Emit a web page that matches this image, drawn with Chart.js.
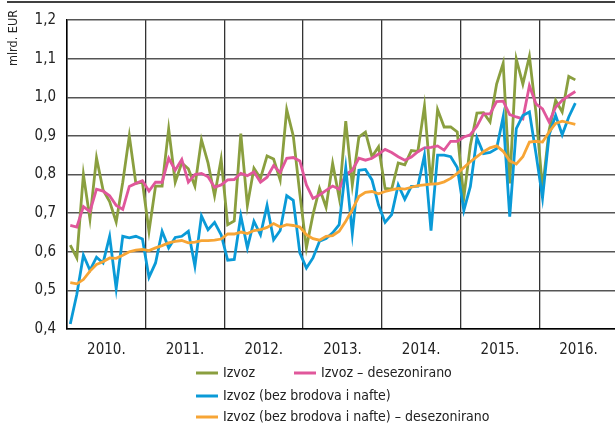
<!DOCTYPE html>
<html>
<head>
<meta charset="utf-8">
<script src="https://cdn.jsdelivr.net/npm/chart.js@4"></script>
<style>
  html, body { margin: 0; padding: 0; background: #fff; }
  #wrap { width: 615px; height: 425px; }
</style>
</head>
<body>
<div id="wrap"><canvas id="izvozChart" width="615" height="425"></canvas></div>
<script>
// x axis: one label per year, monthly points Jan 2010 - Jun 2016
const yearLabels = ['2010.', '2011.', '2012.', '2013.', '2014.', '2015.', '2016.'];

const izvoz = [
  0.617, 0.584, 0.800, 0.685, 0.843, 0.760, 0.730, 0.677, 0.780, 0.900, 0.777, 0.780,
  0.653, 0.770, 0.770, 0.918, 0.780, 0.830, 0.815, 0.770, 0.890, 0.830, 0.745, 0.840,
  0.670, 0.680, 0.906, 0.720, 0.816, 0.790, 0.848, 0.840, 0.786, 0.968, 0.900, 0.750,
  0.610, 0.696, 0.764, 0.715, 0.829, 0.740, 0.938, 0.773, 0.897, 0.910, 0.846, 0.872,
  0.764, 0.762, 0.830, 0.825, 0.862, 0.860, 0.977, 0.773, 0.968, 0.923, 0.923, 0.910,
  0.740, 0.876, 0.959, 0.960, 0.936, 1.034, 1.088, 0.777, 1.099, 1.034, 1.106, 0.960,
  0.763, 0.914, 0.992, 0.962, 1.054, 1.045
];

const izvozDesez = [
  0.668, 0.664, 0.717, 0.704, 0.762, 0.757, 0.745, 0.720, 0.710, 0.769, 0.777, 0.784,
  0.757, 0.780, 0.780, 0.842, 0.811, 0.839, 0.780, 0.800, 0.803, 0.794, 0.767, 0.773,
  0.786, 0.787, 0.803, 0.797, 0.807, 0.780, 0.793, 0.823, 0.805, 0.842, 0.844, 0.835,
  0.773, 0.738, 0.747, 0.759, 0.770, 0.762, 0.800, 0.811, 0.842, 0.837, 0.842, 0.853,
  0.865, 0.857, 0.846, 0.837, 0.845, 0.859, 0.869, 0.870, 0.874, 0.863, 0.886, 0.886,
  0.897, 0.903, 0.925, 0.957, 0.957, 0.989, 0.990, 0.955, 0.949, 0.944, 1.030, 0.983,
  0.970, 0.936, 0.974, 0.992, 1.004, 1.015
];

const bezBrodova = [
  0.413, 0.490, 0.591, 0.552, 0.586, 0.571, 0.640, 0.505, 0.640, 0.636, 0.640, 0.633,
  0.534, 0.571, 0.653, 0.610, 0.637, 0.640, 0.653, 0.563, 0.693, 0.657, 0.676, 0.644,
  0.578, 0.580, 0.693, 0.610, 0.679, 0.644, 0.720, 0.631, 0.655, 0.745, 0.733, 0.597,
  0.558, 0.584, 0.627, 0.634, 0.649, 0.670, 0.818, 0.647, 0.811, 0.813, 0.786, 0.721,
  0.676, 0.696, 0.773, 0.736, 0.769, 0.770, 0.850, 0.655, 0.850, 0.850, 0.846, 0.818,
  0.707, 0.769, 0.895, 0.854, 0.857, 0.867, 0.949, 0.691, 0.919, 0.953, 0.962, 0.854,
  0.739, 0.902, 0.953, 0.903, 0.949, 0.985
];

const bezBrodovaDesez = [
  0.520, 0.517, 0.528, 0.550, 0.567, 0.574, 0.584, 0.583, 0.591, 0.600, 0.604, 0.606,
  0.603, 0.610, 0.616, 0.623, 0.627, 0.629, 0.623, 0.625, 0.629, 0.629, 0.630, 0.633,
  0.646, 0.646, 0.651, 0.647, 0.655, 0.657, 0.663, 0.673, 0.664, 0.670, 0.668, 0.664,
  0.644, 0.634, 0.630, 0.640, 0.642, 0.653, 0.679, 0.709, 0.743, 0.754, 0.756, 0.750,
  0.756, 0.760, 0.764, 0.762, 0.767, 0.771, 0.773, 0.775, 0.776, 0.781, 0.790, 0.803,
  0.818, 0.833, 0.846, 0.859, 0.869, 0.874, 0.860, 0.835, 0.827, 0.846, 0.884, 0.886,
  0.884, 0.910, 0.932, 0.938, 0.934, 0.930
];

const FONT = '"DejaVu Sans Condensed", "Liberation Sans Narrow", sans-serif';

// monthly points sit in the middle of their month
const toPoints = arr => arr.map((v, i) => ({ x: i + 0.5, y: v }));

// frame line at the top, rotated unit label and the legend below the axis
const decorations = {
    id: 'decorations',
    afterDraw(chart) {
        const ctx = chart.ctx;
        ctx.save();
        ctx.strokeStyle = '#000';
        ctx.lineWidth = 1.5;
        ctx.beginPath();
        ctx.moveTo(7, 2);
        ctx.lineTo(chart.width, 2);
        ctx.stroke();

        ctx.fillStyle = '#222';
        ctx.font = '12.5px ' + FONT;
        ctx.translate(14, 38);
        ctx.rotate(-Math.PI / 2);
        ctx.textAlign = 'center';
        ctx.textBaseline = 'middle';
        ctx.fillText('mlrd. EUR', 0, 0);
        ctx.restore();

        const slots = [
            { ds: 0, x: 196, y: 373 },
            { ds: 1, x: 294, y: 373 },
            { ds: 2, x: 196, y: 396 },
            { ds: 3, x: 196, y: 417 }
        ];
        ctx.save();
        ctx.font = '14px ' + FONT;
        ctx.textBaseline = 'middle';
        slots.forEach(s => {
            const ds = chart.data.datasets[s.ds];
            ctx.strokeStyle = ds.borderColor;
            ctx.lineWidth = 3;
            ctx.beginPath();
            ctx.moveTo(s.x, s.y);
            ctx.lineTo(s.x + 22, s.y);
            ctx.stroke();
            ctx.fillStyle = '#222';
            ctx.fillText(ds.label, s.x + 27, s.y);
        });
        ctx.restore();
    }
};

new Chart(document.getElementById('izvozChart'), {
    type: 'line',
    data: {
        datasets: [
            { label: 'Izvoz', data: toPoints(izvoz), borderColor: '#8a9f3f', order: 4 },
            { label: 'Izvoz – desezonirano', data: toPoints(izvozDesez), borderColor: '#e0579b', order: 3 },
            { label: 'Izvoz (bez brodova i nafte)', data: toPoints(bezBrodova), borderColor: '#0a9ad7', order: 2 },
            { label: 'Izvoz (bez brodova i nafte) – desezonirano', data: toPoints(bezBrodovaDesez), borderColor: '#f7a535', order: 1 }
        ]
    },
    options: {
        responsive: false,
        animation: false,
        layout: { padding: { top: 14, right: 0, left: 0, bottom: 0 } },
        elements: {
            line: { borderWidth: 2.8, tension: 0, fill: false },
            point: { radius: 0 }
        },
        plugins: {
            legend: { display: false },
            tooltip: { enabled: false }
        },
        scales: {
            x: {
                type: 'linear',
                min: 0,
                max: 83.55,
                afterBuildTicks: axis => {
                    axis.ticks = yearLabels.flatMap((_, k) => [{ value: k * 12 }, { value: k * 12 + 6 }]);
                },
                afterFit: scale => { scale.height = 96; },
                grid: {
                    drawTicks: false,
                    lineWidth: 1.3,
                    color: c => (c.tick && c.tick.value % 12 === 0) ? '#333' : 'rgba(0,0,0,0)'
                },
                border: { color: '#000', width: 1.5 },
                ticks: {
                    autoSkip: false,
                    maxRotation: 0,
                    padding: 12,
                    color: '#222',
                    font: { family: FONT, size: 15 },
                    callback: v => (v % 12 === 6) ? yearLabels[(v - 6) / 12] : ''
                }
            },
            y: {
                min: 0.4,
                max: 1.2,
                afterFit: scale => { scale.width = 67; },
                grid: { drawTicks: false, color: '#555', lineWidth: 1.4 },
                border: { color: '#000', width: 1.5 },
                ticks: {
                    stepSize: 0.1,
                    padding: 11,
                    color: '#222',
                    font: { family: FONT, size: 15 },
                    callback: v => v.toFixed(1).replace('.', ',')
                }
            }
        }
    },
    plugins: [decorations]
});
</script>
</body>
</html>
